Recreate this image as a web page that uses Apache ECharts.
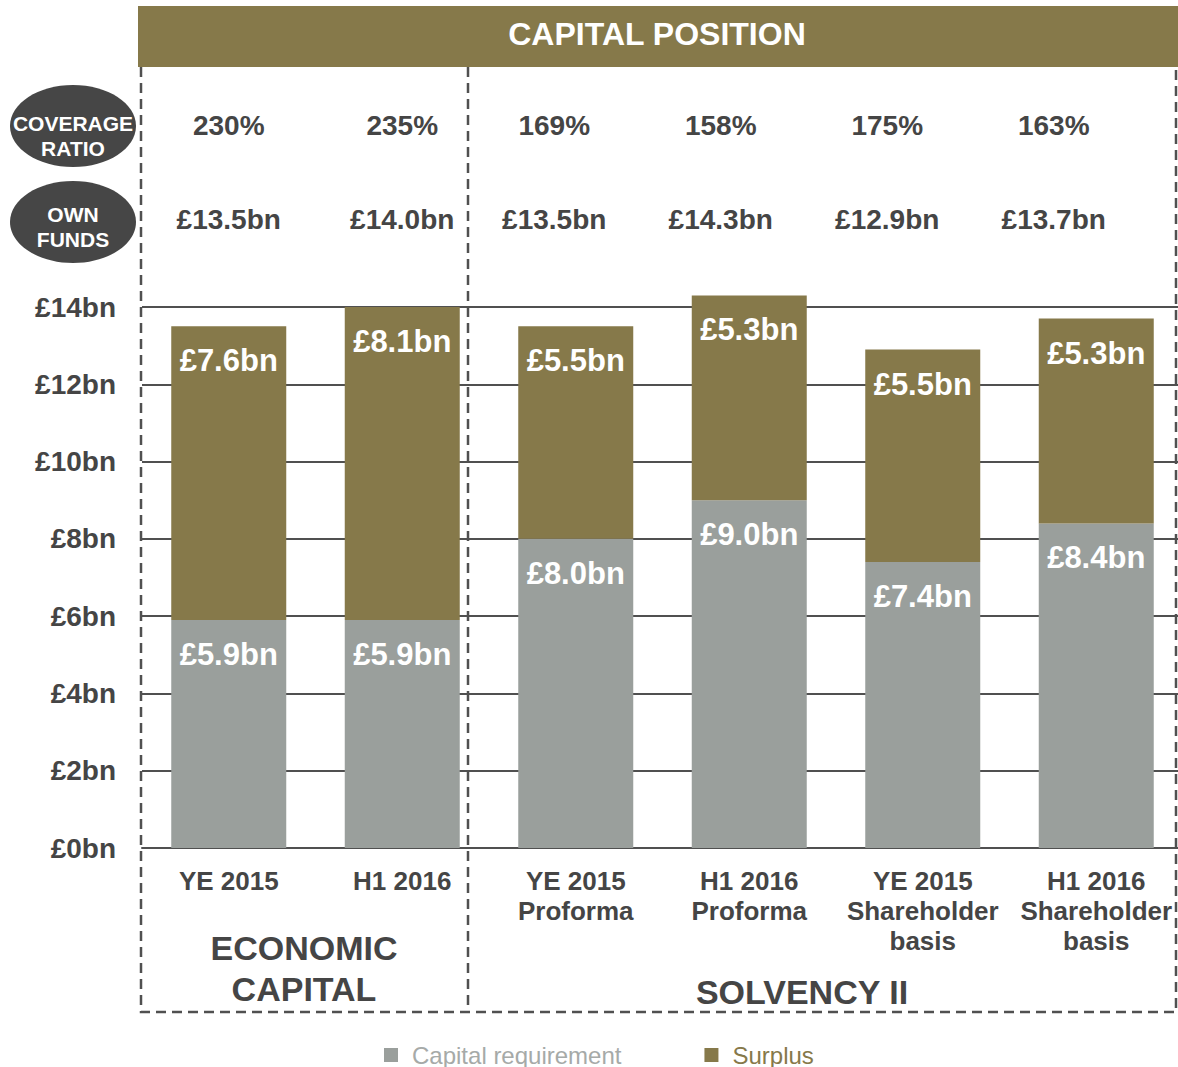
<!DOCTYPE html>
<html>
<head>
<meta charset="utf-8">
<script src="https://cdn.jsdelivr.net/npm/echarts@6/dist/echarts.min.js"></script>
<style>
  html, body { margin: 0; padding: 0; background: #fff; overflow: hidden; }
  #chart { width: 1186px; height: 1067px; }
</style>
</head>
<body>
<div id="chart"></div>
<script>
// ====== Capital position: economic capital vs Solvency II ======
var categories = ['YE 2015', 'H1 2016', 'YE 2015\nProforma', 'H1 2016\nProforma',
  'YE 2015\nShareholder\nbasis', 'H1 2016\nShareholder\nbasis'];
var capitalRequirement = [5.9, 5.9, 8.0, 9.0, 7.4, 8.4];
var surplus = [7.6, 8.1, 5.5, 5.3, 5.5, 5.3];
var coverageRatio = ['230%', '235%', '169%', '158%', '175%', '163%'];
var ownFunds = ['£13.5bn', '£14.0bn', '£13.5bn', '£14.3bn', '£12.9bn', '£13.7bn'];
var yTicks = { min: 0, max: 14, step: 2 };

(function() {
  var olive = '#86794a';
  var grey = '#9a9f9c';
  var ink = '#454545';
  var line = '#505050';
  var font = '"Liberation Sans", Arial, sans-serif';

  var chart = echarts.init(document.getElementById('chart'), null, { renderer: 'svg' });

  var topLabels = categories.map(function(c, i) {
    return '{a|' + coverageRatio[i] + '}\n{b|' + ownFunds[i] + '}';
  });
  var topRich = {
    a: { fontFamily: font, fontSize: 28, fontWeight: 'bold', color: ink, lineHeight: 94 },
    b: { fontFamily: font, fontSize: 28, fontWeight: 'bold', color: ink, lineHeight: 94 }
  };
  function topAxis(gridIndex, data) {
    return {
      type: 'category', gridIndex: gridIndex, position: 'top', data: data,
      axisLine: { show: false }, axisTick: { show: false }, splitLine: { show: false },
      axisLabel: { interval: 0, margin: 41, rich: topRich, formatter: function(v) { return v; } }
    };
  }
  function hiddenY(gridIndex) {
    return { type: 'value', gridIndex: gridIndex, min: 0, max: 1, show: false };
  }
  var barLabel = {
    show: true, position: 'insideTop', distance: 19,
    color: '#fff', fontFamily: font, fontSize: 31, fontWeight: 'bold',
    formatter: function(p) { return '£' + p.value.toFixed(1) + 'bn'; }
  };

  chart.setOption({
    animation: false,
    textStyle: { fontFamily: font },
    grid: [
      { left: 142, top: 307, width: 1041, height: 541 },
      { left: 142, top: 307, width: 347, height: 10 },
      { left: 471, top: 307, width: 666, height: 10 }
    ],
    legend: {
      left: 384, top: 1042, padding: 0,
      icon: 'rect', itemWidth: 14, itemHeight: 14, itemGap: 83,
      textStyle: { fontFamily: font, fontSize: 24, lineHeight: 26, padding: [0, 0, 0, 9] },
      data: [
        { name: 'Capital requirement', textStyle: { color: '#a6aaa8' } },
        { name: 'Surplus', textStyle: { color: olive } }
      ],
      selectedMode: false
    },
    xAxis: [
      {
        type: 'category', gridIndex: 0, data: categories,
        axisLine: { lineStyle: { color: line, width: 2 } },
        axisTick: { show: false },
        axisLabel: {
          interval: 0, margin: 18, color: ink, fontFamily: font,
          fontSize: 26, fontWeight: 'bold', lineHeight: 30
        }
      },
      topAxis(1, topLabels.slice(0, 2)),
      topAxis(2, topLabels.slice(2))
    ],
    yAxis: [
      {
        type: 'value', gridIndex: 0,
        min: yTicks.min, max: yTicks.max, interval: yTicks.step,
        axisLine: { show: false }, axisTick: { show: false },
        axisLabel: {
          margin: 26, color: ink, fontFamily: font, fontSize: 28, fontWeight: 'bold',
          formatter: '£{value}bn'
        },
        splitLine: { lineStyle: { color: line, width: 2 } }
      },
      hiddenY(1),
      hiddenY(2)
    ],
    series: [
      {
        name: 'Capital requirement', type: 'bar', stack: 'cap',
        data: capitalRequirement, barWidth: 115,
        itemStyle: { color: grey },
        label: barLabel
      },
      {
        name: 'Surplus', type: 'bar', stack: 'cap', clip: false,
        data: surplus, barWidth: 115,
        itemStyle: { color: olive },
        label: barLabel
      }
    ],
    graphic: [
      // header band
      { type: 'rect', shape: { x: 138, y: 6, width: 1048, height: 61 }, style: { fill: olive } },
      {
        type: 'text', x: 657, y: 34,
        style: { text: 'CAPITAL POSITION', fill: '#fff', font: 'bold 32px ' + font, align: 'center', verticalAlign: 'middle' }
      },
      // row badges
      { type: 'ellipse', shape: { cx: 73, cy: 126, rx: 63, ry: 41 }, style: { fill: '#464646' } },
      {
        type: 'text', x: 73, y: 136,
        style: { text: 'COVERAGE\nRATIO', fill: '#fff', font: 'bold 21px ' + font, lineHeight: 25, align: 'center', verticalAlign: 'middle' }
      },
      { type: 'ellipse', shape: { cx: 73, cy: 222, rx: 63, ry: 41 }, style: { fill: '#464646' } },
      {
        type: 'text', x: 73, y: 227,
        style: { text: 'OWN\nFUNDS', fill: '#fff', font: 'bold 21px ' + font, lineHeight: 25, align: 'center', verticalAlign: 'middle' }
      },
      // dashed section boxes
      {
        type: 'polyline', z: 5,
        shape: { points: [[141, 67], [141, 1012], [1176, 1012], [1176, 67]] },
        style: { stroke: line, lineWidth: 2.5, lineDash: [10, 6], fill: null }
      },
      {
        type: 'line', z: 5,
        shape: { x1: 468, y1: 67, x2: 468, y2: 1012 },
        style: { stroke: line, lineWidth: 2.5, lineDash: [10, 6] }
      },
      // section titles
      {
        type: 'text', x: 304, y: 968,
        style: { text: 'ECONOMIC\nCAPITAL', fill: ink, font: 'bold 34px ' + font, lineHeight: 41, align: 'center', verticalAlign: 'middle' }
      },
      {
        type: 'text', x: 802, y: 992,
        style: { text: 'SOLVENCY II', fill: ink, font: 'bold 34px ' + font, align: 'center', verticalAlign: 'middle' }
      }
    ]
  });

  window.addEventListener('resize', function() { chart.resize(); });
})();
</script>
</body>
</html>
